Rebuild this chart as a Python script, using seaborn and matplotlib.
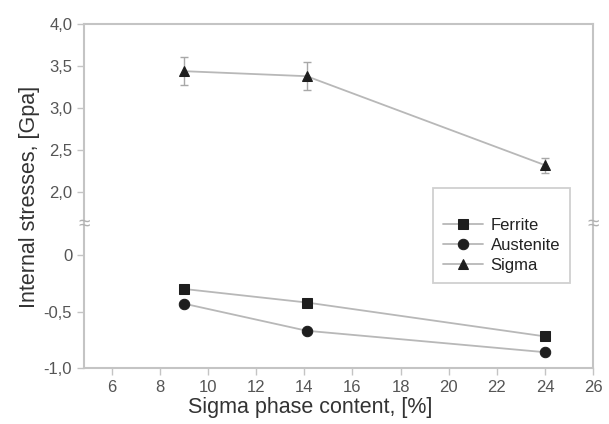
import matplotlib
matplotlib.use("Agg")
import matplotlib.pyplot as plt
import numpy as np
import pandas as pd
import seaborn as sns

# data
sigma_content = [9.0, 14.1, 24.0]
ferrite = [-0.30, -0.42, -0.72]
austenite = [-0.43, -0.67, -0.86]
sigma = [3.44, 3.38, 2.32]
sigma_err = [0.17, 0.17, 0.09]

upper_ticks = [2.0, 2.5, 3.0, 3.5, 4.0]
upper_labels = ["2,0", "2,5", "3,0", "3,5", "4,0"]
lower_ticks = [-1.0, -0.5, 0.0]
lower_labels = ["-1,0", "-0,5", "0"]
x_ticks = [6, 8, 10, 12, 14, 16, 18, 20, 22, 24, 26]

sns.set_style("ticks")
plt.rcParams['font.family'] = ['Liberation Sans', 'DejaVu Sans']

frame_col = '#c4c4c4'
line_col = '#b8b8b8'
mark_col = '#1e1e1e'
text_col = '#555555'

fig, (ax_top, ax_bot) = plt.subplots(2, 1, sharex=True, figsize=(6.09, 4.24), dpi=100,
                                     gridspec_kw={'height_ratios': [199, 145], 'hspace': 0})
fig.subplots_adjust(left=0.138, right=0.974, top=0.943, bottom=0.132)

df_low = pd.DataFrame({'x': sigma_content, 'Ferrite': ferrite, 'Austenite': austenite})
df_top = pd.DataFrame({'x': sigma_content, 'Sigma': sigma})

ax_top.errorbar(sigma_content, sigma, yerr=sigma_err, fmt='none', ecolor='#a8a8a8',
                elinewidth=1, capsize=3, capthick=1, zorder=2)
sns.lineplot(data=df_top, x='x', y='Sigma', ax=ax_top, color=line_col, linewidth=1.3,
             marker='^', markersize=7, markerfacecolor=mark_col, markeredgecolor=mark_col,
             label='Sigma', legend=False, zorder=3)
sns.lineplot(data=df_low, x='x', y='Ferrite', ax=ax_bot, color=line_col, linewidth=1.3,
             marker='s', markersize=7, markerfacecolor=mark_col, markeredgecolor=mark_col,
             label='Ferrite', legend=False)
sns.lineplot(data=df_low, x='x', y='Austenite', ax=ax_bot, color=line_col, linewidth=1.3,
             marker='o', markersize=7.5, markerfacecolor=mark_col, markeredgecolor=mark_col,
             label='Austenite', legend=False)

ax_top.set_ylim(1.63, 4.0)
ax_bot.set_ylim(-1.0, 0.283)
ax_bot.set_xlim(4.85, 26)

ax_top.set_yticks(upper_ticks, upper_labels)
ax_bot.set_yticks(lower_ticks, lower_labels)
ax_bot.set_xticks(x_ticks)

for ax in (ax_top, ax_bot):
    for s in ax.spines.values():
        s.set_color(frame_col)
        s.set_linewidth(1.5)
    ax.tick_params(axis='both', colors=frame_col, labelcolor=text_col, labelsize=12,
                   length=5, width=1)
    ax.set_xlabel('')
    ax.set_ylabel('')
ax_top.spines['bottom'].set_visible(False)
ax_bot.spines['top'].set_visible(False)
ax_top.tick_params(axis='x', bottom=False, labelbottom=False)

ax_bot.set_xlabel('Sigma phase content, [%]', fontsize=15.5, color='#333333')
ax_bot.xaxis.set_label_coords(0.444, -0.2)
fig.text(0.048, 0.535, 'Internal stresses, [Gpa]', rotation=90, fontsize=15.5,
         color='#333333', ha='center', va='center')

# axis break marks
for xb in (0.138, 0.974):
    fig.text(xb, 0.472, '\u2248', fontsize=15, color='#b0b0b0', ha='center', va='center')

h_f, l_f = ax_bot.get_legend_handles_labels()
h_s, l_s = ax_top.get_legend_handles_labels()
leg = fig.legend(h_f + h_s, l_f + l_s, loc='upper left', bbox_to_anchor=(0.711, 0.557),
                 fontsize=12, frameon=True, fancybox=False, borderpad=0.6,
                 labelspacing=0.3, handlelength=2.4, handletextpad=0.45, borderaxespad=0,
                 title=' ', title_fontsize=12)
leg.get_frame().set_edgecolor(frame_col)
leg.get_frame().set_linewidth(1.3)
for t in leg.get_texts():
    t.set_color('#222222')

fig.savefig('out.png', dpi=100)
